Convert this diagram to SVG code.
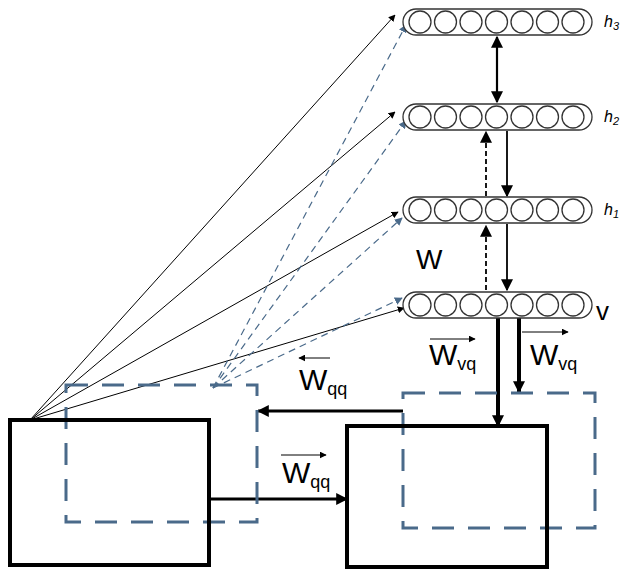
<svg xmlns="http://www.w3.org/2000/svg" width="640" height="587" viewBox="0 0 640 587">
<defs>
<marker id="ah" viewBox="0 0 10 10" refX="9" refY="5" markerWidth="7" markerHeight="7" orient="auto-start-reverse" markerUnits="userSpaceOnUse"><path d="M0,0L10,5L0,10z" fill="#000"/></marker>
<marker id="ahb" viewBox="0 0 10 10" refX="9" refY="5" markerWidth="12" markerHeight="12" orient="auto-start-reverse" markerUnits="userSpaceOnUse"><path d="M0,0L10,5L0,10z" fill="#000"/></marker>
<marker id="ahg" viewBox="0 0 10 10" refX="9" refY="5" markerWidth="8" markerHeight="8" orient="auto" markerUnits="userSpaceOnUse"><path d="M0,0L10,5L0,10z" fill="#4a6a8a"/></marker>
<g id="layer">
<rect x="403" y="-13" width="189" height="26" rx="13" fill="#fff" stroke="#333" stroke-width="1.3"/>
<circle cx="420" cy="0" r="11" fill="none" stroke="#333" stroke-width="1.3"/>
<circle cx="445.5" cy="0" r="11" fill="none" stroke="#333" stroke-width="1.3"/>
<circle cx="471" cy="0" r="11" fill="none" stroke="#333" stroke-width="1.3"/>
<circle cx="496.5" cy="0" r="11" fill="none" stroke="#333" stroke-width="1.3"/>
<circle cx="522" cy="0" r="11" fill="none" stroke="#333" stroke-width="1.3"/>
<circle cx="547.5" cy="0" r="11" fill="none" stroke="#333" stroke-width="1.3"/>
<circle cx="573" cy="0" r="11" fill="none" stroke="#333" stroke-width="1.3"/>
</g>
</defs>
<style>
.t{font-family:"Liberation Sans",Arial,sans-serif;fill:#000}
.it{font-family:"Liberation Sans",Arial,sans-serif;font-style:italic;font-size:16px}
.d{fill:none;stroke:#4a6a8a;stroke-width:3;stroke-dasharray:22,14}
</style>
<g id="connectors" fill="none">
<g stroke="#000" stroke-width="1" marker-end="url(#ah)">
<line x1="30" y1="420" x2="395" y2="15"/>
<line x1="30" y1="420" x2="395" y2="112"/>
<line x1="30" y1="420" x2="398" y2="212"/>
<line x1="30" y1="420" x2="404" y2="308"/>
</g>
<g stroke="#4a6a8a" stroke-width="1.2" stroke-dasharray="7,5" marker-end="url(#ahg)">
<line x1="213" y1="388" x2="406" y2="25"/>
<line x1="213" y1="388" x2="406" y2="121"/>
<line x1="213" y1="388" x2="402" y2="218"/>
<line x1="213" y1="388" x2="402" y2="298"/>
</g>
<line x1="497" y1="37" x2="497" y2="102" stroke="#000" stroke-width="2.2" marker-start="url(#ahb)" marker-end="url(#ahb)"/>
<line x1="507" y1="131" x2="507" y2="196" stroke="#000" stroke-width="1.8" marker-end="url(#ahb)"/>
<line x1="486" y1="196" x2="486" y2="132" stroke="#000" stroke-width="1.8" stroke-dasharray="5,3" marker-end="url(#ahb)"/>
<line x1="507" y1="224" x2="507" y2="290" stroke="#000" stroke-width="1.8" marker-end="url(#ahb)"/>
<line x1="486" y1="290" x2="486" y2="226" stroke="#000" stroke-width="1.8" stroke-dasharray="5,3" marker-end="url(#ahb)"/>
<line x1="498" y1="312" x2="498" y2="426" stroke="#000" stroke-width="4" marker-end="url(#ahb)"/>
<line x1="519" y1="312" x2="519" y2="392" stroke="#000" stroke-width="4" marker-end="url(#ahb)"/>
<line x1="403" y1="411" x2="258" y2="411" stroke="#000" stroke-width="3" marker-end="url(#ahb)"/>
<line x1="209" y1="499" x2="347" y2="499" stroke="#000" stroke-width="3" marker-end="url(#ahb)"/>
</g>
<g id="h3"><use href="#layer" y="22"/><text class="it" x="604" y="27">h<tspan font-size="11" dy="3">3</tspan></text></g>
<g id="h2"><use href="#layer" y="117"/><text class="it" x="604" y="122">h<tspan font-size="11" dy="3">2</tspan></text></g>
<g id="h1"><use href="#layer" y="210"/><text class="it" x="604" y="215">h<tspan font-size="11" dy="3">1</tspan></text></g>
<g id="v"><use href="#layer" y="305"/><text class="t" x="596" y="320" font-size="26">v</text></g>
<text class="t" x="416" y="269" font-size="28">W</text>
<g id="leftQ">
<rect x="66" y="385" width="191" height="137" class="d"/>
<rect x="10" y="420" width="199" height="145" fill="none" stroke="#000" stroke-width="4"/>
</g>
<g id="rightQ">
<rect x="403" y="393" width="192" height="135" class="d"/>
<rect x="347" y="426" width="200" height="141" fill="none" stroke="#000" stroke-width="4"/>
</g>
<g id="labels">
<text class="t" x="299" y="390" font-size="30">W<tspan font-size="18" dy="5">qq</tspan></text>
<line x1="330" y1="358" x2="299" y2="358" stroke="#000" stroke-width="1" marker-end="url(#ah)"/>
<text class="t" x="429" y="365" font-size="30">W<tspan font-size="18" dy="5">vq</tspan></text>
<line x1="430" y1="339" x2="475" y2="339" stroke="#000" stroke-width="1" marker-end="url(#ah)"/>
<text class="t" x="530" y="365" font-size="30">W<tspan font-size="18" dy="5">vq</tspan></text>
<line x1="522" y1="332" x2="568" y2="332" stroke="#000" stroke-width="1" marker-end="url(#ah)"/>
<text class="t" x="282" y="483" font-size="30">W<tspan font-size="18" dy="5">qq</tspan></text>
<line x1="281" y1="455" x2="326" y2="455" stroke="#000" stroke-width="1" marker-end="url(#ah)"/>
</g>
</svg>
